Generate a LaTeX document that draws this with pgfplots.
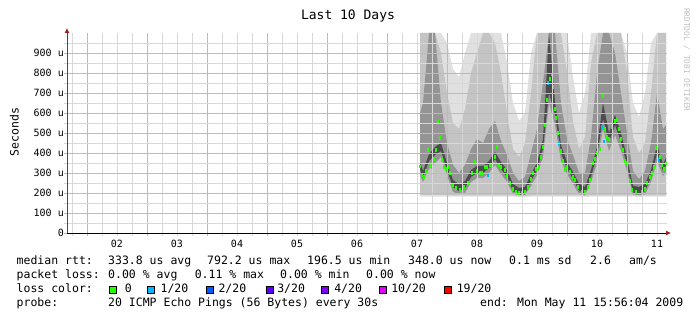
\documentclass[border=0pt]{standalone}
\usepackage{pgfplots}
\pgfplotsset{compat=1.18}
\usepackage{pgfplotstable}
\usepgfplotslibrary{fillbetween}
\usetikzlibrary{arrows.meta}
\usepackage{fontspec}
\setmainfont{DejaVu Sans Mono}

\definecolor{s1}{gray}{0.88}
\definecolor{s2}{gray}{0.77}
\definecolor{s3}{gray}{0.58}
\definecolor{s4}{gray}{0.30}
\definecolor{l0}{HTML}{26FF00}
\definecolor{l1}{HTML}{00B8FF}
\definecolor{l2}{HTML}{0059FF}
\definecolor{l3}{HTML}{5E00FF}
\definecolor{l4}{HTML}{7E00FF}
\definecolor{l10}{HTML}{DD00FF}
\definecolor{l19}{HTML}{FF0000}
\definecolor{arrowred}{HTML}{A02020}
\definecolor{mgrid}{HTML}{E6A8A8}
\definecolor{ngrid}{HTML}{D8D8D8}

\pgfplotstableread{
x     l1lo l1hi l2lo l2hi l3lo l3hi l4lo l4hi
7.55  182  1000 190  1000 290  600  318  355
7.6   182  1000 190  1000 255  650  275  310
7.7   182  1000 190  1000 320  1000 360  395
7.8   182  1000 190  1000 350  1000 390  430
7.9   182  1000 190  900  380  650  410  450
8.0   182  950  190  700  290  450  315  350
8.1   182  820  188  550  205  340  230  265
8.2   182  780  188  520  195  300  208  243
8.3   182  900  188  620  200  340  225  260
8.4   182  1000 188  800  255  420  280  315
8.5   182  1000 188  900  275  470  300  335
8.6   182  1000 188  1000 275  450  300  335
8.7   182  1000 188  1000 300  520  325  360
8.8   182  1000 188  950  340  560  370  405
8.9   182  1000 188  800  295  460  320  355
9.0   182  850  188  600  255  390  280  315
9.1   182  650  188  420  195  300  210  245
9.2   180  560  186  380  190  260  191  225
9.3   180  600  186  450  190  280  195  230
9.4   182  900  188  700  235  400  260  295
9.5   182  1000 188  1000 290  520  315  350
9.6   182  1000 188  1000 380  750  420  470
9.7   182  1000 188  1000 650  1000 700  1000
9.8   182  1000 188  1000 540  1000 590  660
9.9   182  1000 188  1000 360  650  400  440
10.0  182  1000 188  800  295  470  320  355
10.1  182  780  188  560  245  390  270  305
10.2  182  600  188  420  195  300  212  247
10.3  180  700  186  480  190  300  195  230
10.4  182  1000 188  850  255  480  280  315
10.5  182  1000 188  1000 350  800  390  430
10.6  182  1000 188  1000 520  1000 570  650
10.7  182  1000 188  1000 410  1000 455  500
10.8  182  1000 188  1000 490  900  540  590
10.9  182  1000 188  1000 410  700  455  500
11.0  182  900  188  800  310  500  340  375
11.1  182  650  188  480  192  310  202  237
11.2  180  580  186  400  190  270  195  230
11.3  182  700  188  450  193  310  210  245
11.4  182  950  188  700  255  450  280  315
11.5  182  1000 188  1000 360  700  400  440
11.6  182  1000 188  1000 285  520  310  345
11.65 182  1000 188  1000 305  540  338  375
}\smoke

\begin{document}
\begin{tikzpicture}[x=1pt,y=1pt]
\begin{axis}[
  at={(0,0)}, anchor=south west,
  scale only axis, width=600pt, height=200pt,
  xmin=1.666667, xmax=11.666667, ymin=0, ymax=1000,
  axis lines=left,
  axis on top,
  x axis line style={black, line width=0.8pt, shorten >=-4pt, -{Latex[length=5pt,width=5pt,color=arrowred]}},
  y axis line style={black!70, line width=0.8pt, shorten >=-5pt, -{Latex[length=5pt,width=5pt,color=arrowred]}},
  xtick={2,3,...,11}, xticklabels={},
  minor xtick={1.75,2.25,2.5,2.75,3.25,3.5,3.75,4.25,4.5,4.75,5.25,5.5,5.75,6.25,6.5,6.75,7.25,7.5,7.75,8.25,8.5,8.75,9.25,9.5,9.75,10.25,10.5,10.75,11.25,11.5},
  extra x ticks={2.5,3.5,...,11.5},
  extra x tick labels={02,03,04,05,06,07,08,09,10,11},
  extra x tick style={grid=none, major tick length=0pt,
     xticklabel style={anchor=base, inner sep=0pt, yshift=-14.6pt, font=\fontsize{10}{12}\selectfont}},
  ytick={0,100,...,900},
  yticklabels={0,100 u,200 u,300 u,400 u,500 u,600 u,700 u,800 u,900 u},
  minor ytick={50,150,...,1000},
  yticklabel style={anchor=east, inner sep=0pt, font=\fontsize{10}{12}\selectfont},
  tick align=outside,
  major tick length=3pt, minor tick length=3pt,
  grid=both,
  every major grid/.style={line width=0.8pt, color=mgrid},
  every minor grid/.style={line width=0.8pt, color=ngrid},
  every major tick/.style={line width=0.8pt, color=mgrid},
  every minor tick/.style={line width=0.8pt, color=ngrid},
  clip=true,
]
\addplot[draw=none, name path=A1] table[x=x,y=l1hi]{\smoke};
\addplot[draw=none, name path=B1] table[x=x,y=l1lo]{\smoke};
\addplot[s1, draw=none] fill between[of=A1 and B1];
\addplot[draw=none, name path=A2] table[x=x,y=l2hi]{\smoke};
\addplot[draw=none, name path=B2] table[x=x,y=l2lo]{\smoke};
\addplot[s2, draw=none] fill between[of=A2 and B2];
\addplot[draw=none, name path=A3] table[x=x,y=l3hi]{\smoke};
\addplot[draw=none, name path=B3] table[x=x,y=l3lo]{\smoke};
\addplot[s3, draw=none] fill between[of=A3 and B3];
\addplot[draw=none, name path=A4] table[x=x,y=l4hi]{\smoke};
\addplot[draw=none, name path=B4] table[x=x,y=l4lo]{\smoke};
\addplot[s4, draw=none] fill between[of=A4 and B4];

\addplot[only marks, mark=|, mark size=1.6pt, line width=2pt, color=l0] coordinates {
(7.55,332) (7.583,290) (7.617,280) (7.65,310) (7.683,415) (7.717,340) (7.75,330)
(7.783,370) (7.817,415) (7.85,557) (7.883,475) (7.917,365) (7.95,330) (7.983,320)
(8.017,330) (8.05,300) (8.1,240) (8.15,225) (8.217,215) (8.283,230) (8.35,250)
(8.417,300) (8.467,355) (8.5,310) (8.55,300) (8.583,300) (8.633,330) (8.667,330)
(8.717,340) (8.75,340) (8.8,380) (8.833,430) (8.867,340) (8.9,330) (8.967,315)
(9.0,290) (9.05,250) (9.1,220) (9.15,205) (9.2,200) (9.25,200) (9.3,205)
(9.35,230) (9.4,270) (9.433,300) (9.483,320) (9.517,330) (9.567,380) (9.6,430)
(9.633,540) (9.667,665) (9.717,770) (9.75,792) (9.767,730) (9.8,620)
(9.817,575) (9.85,500) (9.9,410) (9.933,360) (9.967,315) (10.0,330)
(10.05,305) (10.1,280) (10.133,265) (10.183,230) (10.25,205) (10.3,205) (10.35,230)
(10.383,265) (10.433,350) (10.467,370) (10.5,400) (10.55,420) (10.6,690)
(10.633,520) (10.667,480) (10.7,470) (10.75,530) (10.8,560) (10.833,565) (10.867,520)
(10.9,470) (10.933,415) (10.967,360) (11.0,350) (11.05,260) (11.083,215) (11.15,205)
(11.25,205) (11.3,220) (11.333,250) (11.383,280) (11.417,300) (11.45,330) (11.483,425)
(11.55,380) (11.583,340) (11.617,320) (11.65,348)
};
\addplot[only marks, mark=|, mark size=1.6pt, line width=2pt, color=l1] coordinates {
(9.683,750) (9.867,450) (10.583,530) (10.617,455) (11.517,365) (8.683,290)
};
\end{axis}

% title and labels
\node[anchor=base, inner sep=0pt, font=\fontsize{13}{15}\selectfont] at (281,213) {Last 10 Days};
\node[rotate=90, anchor=base, inner sep=0pt, font=\fontsize{11.5}{13}\selectfont] at (-48.5,101) {Seconds};
\node[rotate=-90, anchor=base west, inner sep=0pt, text=black!25, font=\fontsize{7.8}{9}\selectfont] at (617,225) {RRDTOOL / TOBI OETIKER};

% legend
\begin{scope}[every node/.style={anchor=base west, inner sep=0pt, font=\fontsize{11.5}{13}\selectfont}]
\node at (-50.5,-31.5) {median rtt:};
\node at (41,-31.5) {333.8 us avg};
\node at (140,-31.5) {792.2 us max};
\node at (240,-31.5) {196.5 us min};
\node at (341,-31.5) {348.0 us now};
\node at (442,-31.5) {0.1 ms sd};
\node at (523,-31.5) {2.6};
\node at (562,-31.5) {am/s};

\node at (-50.5,-45.5) {packet loss:};
\node at (41,-45.5) {0.00 \% avg};
\node at (127.6,-45.5) {0.11 \% max};
\node at (213,-45.5) {0.00 \% min};
\node at (299,-45.5) {0.00 \% now};

\node at (-50.5,-59.5) {loss color:};
\node at (57.7,-59.5) {0};
\node at (93.4,-59.5) {1/20};
\node at (151.3,-59.5) {2/20};
\node at (210.1,-59.5) {3/20};
\node at (267.1,-59.5) {4/20};
\node at (324.1,-59.5) {10/20};
\node at (389.6,-59.5) {19/20};

\node at (-50.5,-73.5) {probe:};
\node at (41,-73.5) {20 ICMP Echo Pings (56 Bytes) every 30s};
\node at (413,-73.5) {end: Mon May 11 15:56:04 2009};
\end{scope}
\foreach \xx/\cc in {42/l0, 80/l1, 139/l2, 199/l3, 254.5/l4, 312.5/l10, 377.5/l19} {
  \draw[black, line width=0.6pt, fill=\cc] (\xx,-60) rectangle ++(7,7);
}
\pgfresetboundingbox
\path[use as bounding box] (-67,-88) rectangle (630,233);
\end{tikzpicture}
\end{document}
